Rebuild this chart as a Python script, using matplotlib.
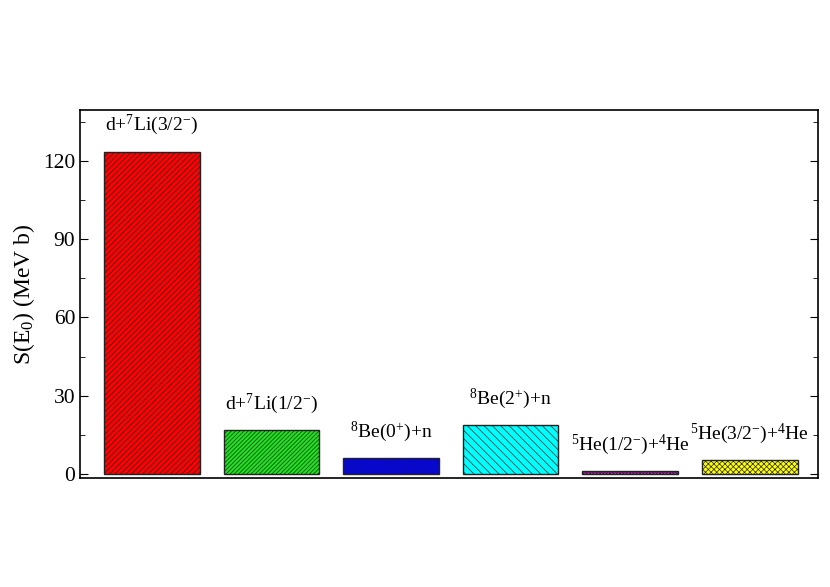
import numpy as np
import matplotlib.pyplot as plt
from matplotlib.ticker import MultipleLocator

channels = [r"d+$^{7}$Li(3/2$^{-}$)", r"d+$^{7}$Li(1/2$^{-}$)", r"$^{8}$Be(0$^{+}$)+n",
            r"$^{8}$Be(2$^{+}$)+n", r"$^{5}$He(1/2$^{-}$)+$^{4}$He", r"$^{5}$He(3/2$^{-}$)+$^{4}$He"]
s_factor = [123.5, 16.9, 6.1, 18.8, 1.2, 5.4]
colors = ["#ff0000", "#19e619", "#0000ff", "#00ffff", "#e619e6", "#ffff00"]
hatches = ["/" * 6, "/" * 8, "\\" * 8, "\\" * 4, "x" * 10, "x" * 6]

plt.rcParams.update({'font.family': 'Liberation Serif', 'mathtext.fontset': 'custom',
                     'mathtext.rm': 'Liberation Serif', 'mathtext.it': 'Liberation Serif:italic',
                     'hatch.linewidth': 0.5, 'hatch.color': 'black'})

fig = plt.figure(figsize=(8.3, 5.87), dpi=100)
ax = fig.add_axes([80 / 830, 1 - 478 / 587, 738 / 830, 368 / 587])

x = np.arange(1, len(s_factor) + 1)
for xi, v, c, h, lab in zip(x, s_factor, colors, hatches, channels):
    ax.bar(xi, v, width=0.8, color=c, hatch=h, edgecolor='#222222', linewidth=1.0)
    ax.text(xi, v + 5.5, lab, ha='center', va='bottom', fontsize=14)

ax.set_xlim(0.4, 6.57)
ax.set_ylim(-1.5, 139.5)
ax.set_xticks([])
ax.yaxis.set_major_locator(MultipleLocator(30))
ax.yaxis.set_minor_locator(MultipleLocator(15))
ax.tick_params(axis='y', which='both', direction='in', right=True, labelsize=15.5)
ax.tick_params(axis='y', which='major', length=6)
ax.tick_params(axis='y', which='minor', length=3.5)
ax.set_ylabel(r"S(E$_{0}$) (MeV b)", fontsize=17)
for sp in ax.spines.values():
    sp.set_linewidth(1.2)

fig.savefig("out.png", dpi=100)
